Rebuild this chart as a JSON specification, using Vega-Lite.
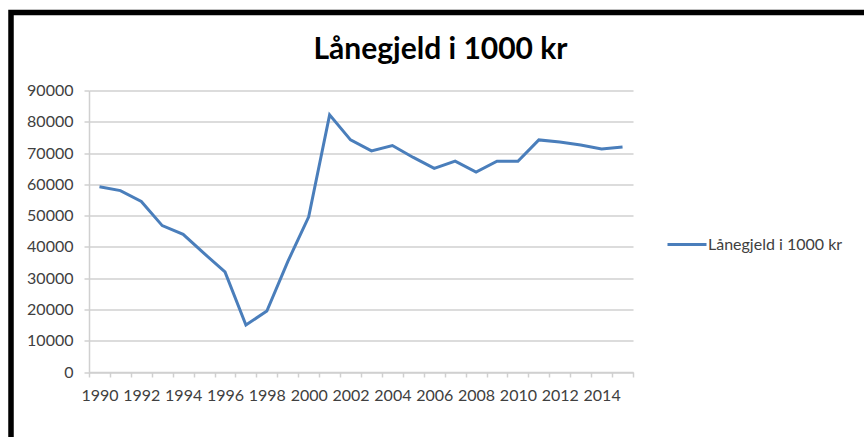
{
  "$schema": "https://vega.github.io/schema/vega-lite/v6.json",
  "autosize": {"type": "none"},
  "padding": {"left": 11, "top": 12.5, "right": 0, "bottom": 0},
  "width": 853,
  "height": 424.5,
  "background": "white",
  "view": {"fill": "white", "stroke": "black", "strokeWidth": 5.5, "strokeDash": [853, 1277.5, 430, 10], "strokeCap": "square"},
  "title": {
    "text": "Lånegjeld i 1000 kr",
    "font": "Lato",
    "fontSize": 30,
    "fontWeight": "bold",
    "color": "#000000",
    "anchor": "middle",
    "frame": "group",
    "baseline": "alphabetic",
    "offset": -76,
    "dx": 3
  },
  "data": {
    "values": [
      {"year": 1990, "value": 59200, "serie": "Lånegjeld i 1000 kr"},
      {"year": 1991, "value": 58000, "serie": "Lånegjeld i 1000 kr"},
      {"year": 1992, "value": 54500, "serie": "Lånegjeld i 1000 kr"},
      {"year": 1993, "value": 46800, "serie": "Lånegjeld i 1000 kr"},
      {"year": 1994, "value": 44000, "serie": "Lånegjeld i 1000 kr"},
      {"year": 1995, "value": 37900, "serie": "Lånegjeld i 1000 kr"},
      {"year": 1996, "value": 32000, "serie": "Lånegjeld i 1000 kr"},
      {"year": 1997, "value": 15000, "serie": "Lånegjeld i 1000 kr"},
      {"year": 1998, "value": 19500, "serie": "Lånegjeld i 1000 kr"},
      {"year": 1999, "value": 35300, "serie": "Lånegjeld i 1000 kr"},
      {"year": 2000, "value": 49600, "serie": "Lånegjeld i 1000 kr"},
      {"year": 2001, "value": 82200, "serie": "Lånegjeld i 1000 kr"},
      {"year": 2002, "value": 74200, "serie": "Lånegjeld i 1000 kr"},
      {"year": 2003, "value": 70700, "serie": "Lånegjeld i 1000 kr"},
      {"year": 2004, "value": 72400, "serie": "Lånegjeld i 1000 kr"},
      {"year": 2005, "value": 68600, "serie": "Lånegjeld i 1000 kr"},
      {"year": 2006, "value": 65100, "serie": "Lånegjeld i 1000 kr"},
      {"year": 2007, "value": 67400, "serie": "Lånegjeld i 1000 kr"},
      {"year": 2008, "value": 63900, "serie": "Lånegjeld i 1000 kr"},
      {"year": 2009, "value": 67400, "serie": "Lånegjeld i 1000 kr"},
      {"year": 2010, "value": 67400, "serie": "Lånegjeld i 1000 kr"},
      {"year": 2011, "value": 74200, "serie": "Lånegjeld i 1000 kr"},
      {"year": 2012, "value": 73500, "serie": "Lånegjeld i 1000 kr"},
      {"year": 2013, "value": 72600, "serie": "Lånegjeld i 1000 kr"},
      {"year": 2014, "value": 71300, "serie": "Lånegjeld i 1000 kr"},
      {"year": 2015, "value": 71900, "serie": "Lånegjeld i 1000 kr"}
    ]
  },
  "mark": {"type": "line", "strokeWidth": 3, "strokeJoin": "miter"},
  "encoding": {
    "x": {
      "field": "year",
      "type": "ordinal",
      "bandPosition": 0.5,
      "scale": {"type": "band", "range": [78, 622], "paddingInner": 0, "paddingOuter": 0},
      "axis": {
        "title": null,
        "orient": "bottom",
        "offset": -65,
        "labelAngle": 0,
        "labelExpr": "datum.value % 2 == 0 ? datum.label : ''",
        "labelFont": "Lato",
        "labelFontSize": 16,
        "labelColor": "#404040",
        "labelPadding": 10,
        "labelOverlap": false,
        "tickBand": "extent",
        "tickSize": 5,
        "tickColor": "#d0d0d0",
        "tickWidth": 1.5,
        "domainColor": "#d0d0d0",
        "domainWidth": 1.5,
        "grid": false
      }
    },
    "y": {
      "field": "value",
      "type": "quantitative",
      "scale": {"domain": [0, 90000], "nice": false, "range": [359.5, 78]},
      "axis": {
        "title": null,
        "orient": "left",
        "offset": -78,
        "values": [0, 10000, 20000, 30000, 40000, 50000, 60000, 70000, 80000, 90000],
        "format": "d",
        "labelFont": "Lato",
        "labelFontSize": 16,
        "labelColor": "#404040",
        "labelPadding": 11,
        "tickSize": 5,
        "tickColor": "#d0d0d0",
        "tickWidth": 1.5,
        "domainColor": "#d0d0d0",
        "domainWidth": 1.5,
        "grid": true,
        "gridColor": "#d0d0d0",
        "gridWidth": 1.5
      }
    },
    "color": {
      "field": "serie",
      "type": "nominal",
      "scale": {"range": ["#4a7ebb"]},
      "legend": {
        "title": null,
        "orient": "none",
        "legendX": 655,
        "legendY": 211,
        "symbolType": "stroke",
        "symbolSize": 1521,
        "symbolStrokeWidth": 3,
        "labelFont": "Lato",
        "labelFontSize": 16,
        "labelColor": "#404040",
        "labelOffset": 0,
        "labelLimit": 300
      }
    }
  }
}
